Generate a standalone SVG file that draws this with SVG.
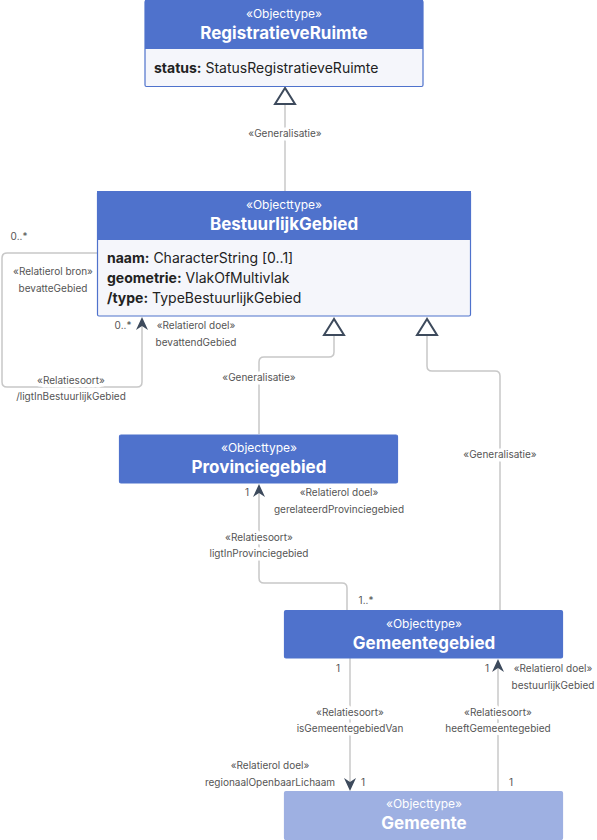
<svg xmlns="http://www.w3.org/2000/svg" width="597" height="840" viewBox="0 0 597 840">
<style>
.hdr{fill:#4f72cc;}
.body{fill:#f5f6fb;stroke:#4f72cc;stroke-width:1.2;}
.box{fill:#4f72cc;stroke:#4f72cc;stroke-width:1.2;}
.lite{fill:#9eb0e2;stroke:#9eb0e2;stroke-width:1.2;}
.st{font-family:Inter,"Liberation Sans",sans-serif;font-size:12px;fill:#ffffff;text-anchor:middle;}
.tt{font-family:Inter,"Liberation Sans",sans-serif;font-size:17px;font-weight:700;fill:#ffffff;text-anchor:middle;}
.at{font-family:Inter,"Liberation Sans",sans-serif;font-size:14px;fill:#222;}
.at tspan.b{font-weight:700;}
.lbl{font-family:Inter,"Liberation Sans",sans-serif;font-size:10px;fill:#555;text-anchor:middle;stroke:#fff;stroke-width:7;paint-order:stroke;stroke-linejoin:round;}
.ln{fill:none;stroke:#c8c8c8;stroke-width:1.5;}
.tri{fill:#fff;stroke:#3d4a5c;stroke-width:2;stroke-linejoin:miter;}
.arr{fill:#3d4a5c;}
</style>
<g id="connectors">
  <path class="ln" d="M285,104 L285,191"/>
  <polygon class="tri" points="285,88 275,104 295,104"/>
  <path class="ln" d="M259,434 L259,362 Q259,357 264,357 L329,357 Q334,357 334,352 L334,335"/>
  <polygon class="tri" points="334,319 324,335 344,335"/>
  <path class="ln" d="M500,610 L500,376 Q500,371 495,371 L432,371 Q427,371 427,366 L427,335"/>
  <polygon class="tri" points="427,319 417,335 437,335"/>
  <path class="ln" d="M97,253 L7,253 Q2,253 2,258 L2,382 Q2,387 7,387 L137,387 Q142,387 142,382 L142,326"/>
  <path class="arr" d="M142,317 L148,330 L142,326 L136,330 Z"/>
  <path class="ln" d="M347,610 L347,588 Q347,583 342,583 L264,583 Q259,583 259,578 L259,493"/>
  <path class="arr" d="M259,484 L265,497 L259,493 L253,497 Z"/>
  <path class="ln" d="M350,658 L350,782"/>
  <path class="arr" d="M350,791 L356,778 L350,782 L344,778 Z"/>
  <path class="ln" d="M498,791 L498,668"/>
  <path class="arr" d="M498,659 L504,672 L498,668 L492,672 Z"/>
  <text class="lbl" x="285" y="137">«Generalisatie»</text>
  <text class="lbl" x="259" y="381">«Generalisatie»</text>
  <text class="lbl" x="500" y="458">«Generalisatie»</text>
  <text class="lbl" x="19" y="240">0..*</text>
  <text class="lbl" x="53" y="275">«Relatierol bron»</text>
  <text class="lbl" x="53" y="292">bevatteGebied</text>
  <text class="lbl" x="123" y="329">0..*</text>
  <text class="lbl" x="196" y="329">«Relatierol doel»</text>
  <text class="lbl" x="196" y="346">bevattendGebied</text>
  <text class="lbl" x="71" y="384">«Relatiesoort»</text>
  <text class="lbl" x="71" y="400">/ligtInBestuurlijkGebied</text>
  <text class="lbl" x="247" y="496">1</text>
  <text class="lbl" x="339" y="496">«Relatierol doel»</text>
  <text class="lbl" x="339" y="513">gerelateerdProvinciegebied</text>
  <text class="lbl" x="259" y="541">«Relatiesoort»</text>
  <text class="lbl" x="259" y="557">ligtInProvinciegebied</text>
  <text class="lbl" x="366" y="604">1..*</text>
  <text class="lbl" x="338" y="672">1</text>
  <text class="lbl" x="350" y="716">«Relatiesoort»</text>
  <text class="lbl" x="350" y="732">isGemeentegebiedVan</text>
  <text class="lbl" x="487" y="672">1</text>
  <text class="lbl" x="553" y="672">«Relatierol doel»</text>
  <text class="lbl" x="553" y="689">bestuurlijkGebied</text>
  <text class="lbl" x="498" y="716">«Relatiesoort»</text>
  <text class="lbl" x="498" y="732">heeftGemeentegebied</text>
  <text class="lbl" x="270" y="769">«Relatierol doel»</text>
  <text class="lbl" x="270" y="786">regionaalOpenbaarLichaam</text>
  <text class="lbl" x="363" y="786">1</text>
  <text class="lbl" x="511" y="786">1</text>
</g>
<g id="RegistratieveRuimte">
  <rect class="body" x="145" y="0.5" width="278" height="86" rx="1.5"/>
  <rect class="hdr" x="145" y="0" width="278" height="49"/>
  <text class="st" x="284" y="18">«Objecttype»</text>
  <text class="tt" x="284" y="39">RegistratieveRuimte</text>
  <text class="at" x="154" y="73"><tspan class="b">status:</tspan> StatusRegistratieveRuimte</text>
</g>
<g id="BestuurlijkGebied">
  <rect class="body" x="97.5" y="191.5" width="373" height="124.5" rx="1.5"/>
  <rect class="hdr" x="97" y="191" width="374" height="49"/>
  <text class="st" x="284" y="209">«Objecttype»</text>
  <text class="tt" x="284" y="230">BestuurlijkGebied</text>
  <text class="at" x="107" y="263"><tspan class="b">naam:</tspan> CharacterString [0..1]</text>
  <text class="at" x="107" y="283"><tspan class="b">geometrie:</tspan> VlakOfMultivlak</text>
  <text class="at" x="107" y="303"><tspan class="b">/type:</tspan> TypeBestuurlijkGebied</text>
</g>
<g id="Provinciegebied">
  <rect class="box" x="119.5" y="435" width="278" height="48" rx="1.5"/>
  <text class="st" x="259" y="452">«Objecttype»</text>
  <text class="tt" x="259" y="473">Provinciegebied</text>
</g>
<g id="Gemeentegebied">
  <rect class="box" x="284.5" y="610.5" width="278" height="47.5" rx="1.5"/>
  <text class="st" x="424" y="628">«Objecttype»</text>
  <text class="tt" x="424" y="649">Gemeentegebied</text>
</g>
<g id="Gemeente">
  <rect class="lite" x="284.5" y="791.5" width="278" height="48" rx="1.5"/>
  <text class="st" x="424" y="808">«Objecttype»</text>
  <text class="tt" x="424" y="829">Gemeente</text>
</g>
</svg>
